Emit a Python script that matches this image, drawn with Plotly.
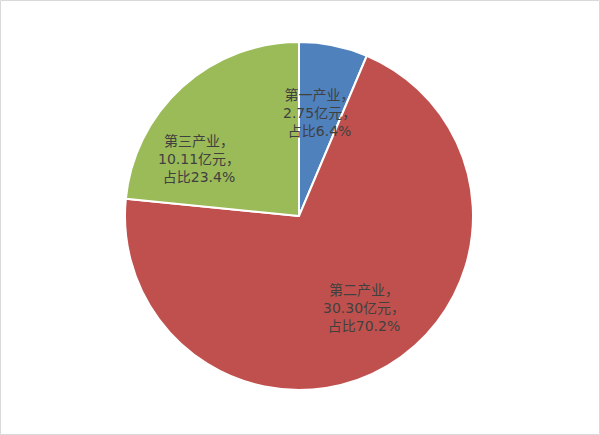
import plotly.graph_objects as go

industries = ["第一产业", "第二产业", "第三产业"]
values = [2.75, 30.30, 10.11]
shares = ["6.4%", "70.2%", "23.4%"]
colors = ["#4F81BD", "#C0504D", "#9BBB59"]

# label centres in pixels, converted to paper coords below
label_pos = [(319, 113), (364, 308), (199, 159)]

W, H = 600, 435

fig = go.Figure()
fig.add_trace(go.Pie(
    labels=industries, values=values,
    textinfo="none", sort=False, direction="clockwise", rotation=0,
    marker=dict(colors=colors, line=dict(color="white", width=2)),
    domain=dict(x=[125 / W, 473 / W], y=[45 / H, 393 / H]),
    showlegend=False, hoverinfo="label+value+percent",
))

annotations = []
for n, v, s, (px, py) in zip(industries, values, shares, label_pos):
    annotations.append(dict(
        text=f"{n}，<br>{v:.2f}亿元，<br>占比{s}",
        x=px / W, y=1 - py / H, xref="paper", yref="paper",
        xanchor="center", yanchor="middle", align="center", showarrow=False,
        font=dict(family="DejaVu Sans, Noto Sans CJK SC", size=14, color="#404040"),
    ))

fig.update_layout(
    width=W, height=H,
    margin=dict(l=0, r=0, t=0, b=0),
    paper_bgcolor="white",
    annotations=annotations,
    shapes=[dict(type="rect", xref="paper", yref="paper",
                 x0=0.5 / W, y0=0.5 / H, x1=1 - 0.5 / W, y1=1 - 0.5 / H,
                 line=dict(color="#d9d9d9", width=1))],
)
fig.write_html("out.html", config={"displayModeBar": False},
               post_script="document.body.style.margin='0';")
